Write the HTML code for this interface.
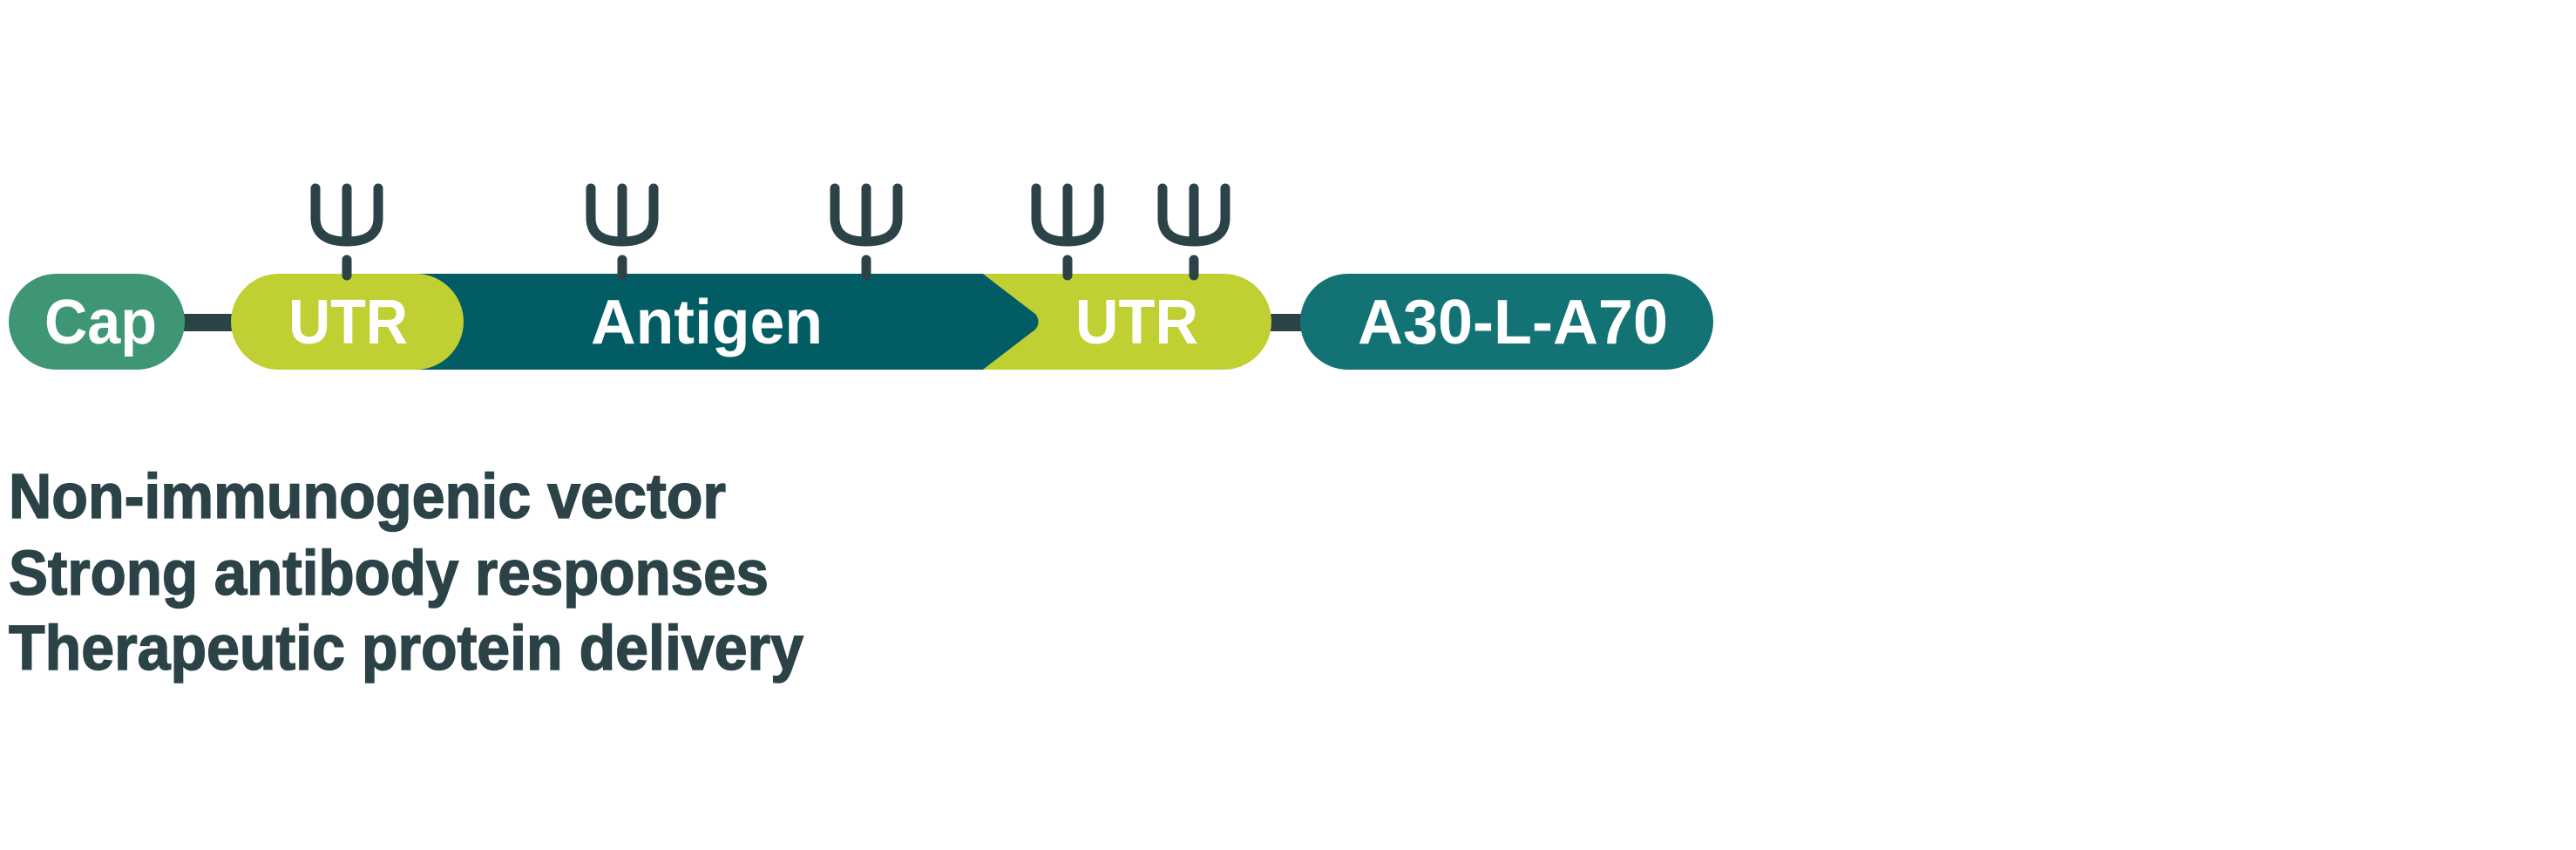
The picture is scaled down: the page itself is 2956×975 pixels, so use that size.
<!DOCTYPE html>
<html><head><meta charset="utf-8"><style>html,body{margin:0;padding:0;background:#fff}svg{display:block}</style></head>
<body>
<svg width="2956" height="975" viewBox="0 0 2956 975" xmlns="http://www.w3.org/2000/svg">
<defs>
<g id="psi" fill="none" stroke="#2b4347" stroke-width="11" stroke-linecap="round">
<path d="M-36,216 L-36,250 Q-36,277 0,277 Q36,277 36,250 L36,216"/>
<path d="M0,216 L0,277"/>
<path d="M0,298 L0,316"/>
</g>
</defs>
<rect x="200" y="360" width="1320" height="20" fill="#2b4347"/>
<rect x="10" y="314" width="202" height="110" rx="55" fill="#3e9674"/>
<path d="M474,314 L1128,314 L1188,360 Q1195,369 1188,378 L1128,424 L474,424 Z" fill="#025c63"/>
<path d="M1128,314 L1404,314 A55,55 0 0 1 1404,424 L1128,424 L1188,378 Q1195,369 1188,360 Z" fill="#c0cf32"/>
<rect x="265" y="314" width="267" height="110" rx="55" fill="#c0cf32"/>
<rect x="1492" y="314" width="474" height="110" rx="55" fill="#137274"/>
<use href="#psi" x="398" y="0"/>
<use href="#psi" x="714" y="0"/>
<use href="#psi" x="994" y="0"/>
<use href="#psi" x="1225" y="0"/>
<use href="#psi" x="1370" y="0"/>
<g font-family="Liberation Sans, sans-serif" font-weight="bold" font-size="72" fill="#fff">
<text x="51" y="394" textLength="129" lengthAdjust="spacingAndGlyphs">Cap</text>
<text x="331" y="394" textLength="137" lengthAdjust="spacingAndGlyphs">UTR</text>
<text x="678" y="394" textLength="266" lengthAdjust="spacingAndGlyphs">Antigen</text>
<text x="1234" y="394" textLength="141" lengthAdjust="spacingAndGlyphs">UTR</text>
<text x="1558" y="394" textLength="356" lengthAdjust="spacingAndGlyphs">A30-L-A70</text>
</g>
<g font-family="Liberation Sans, sans-serif" font-weight="bold" font-size="72" fill="#2b4347" stroke="#2b4347" stroke-width="1.5">
<text x="10" y="594" textLength="823" lengthAdjust="spacingAndGlyphs">Non-immunogenic vector</text>
<text x="10" y="682" textLength="872" lengthAdjust="spacingAndGlyphs">Strong antibody responses</text>
<text x="10" y="768" textLength="912" lengthAdjust="spacingAndGlyphs">Therapeutic protein delivery</text>
</g>
</svg>
</body></html>
